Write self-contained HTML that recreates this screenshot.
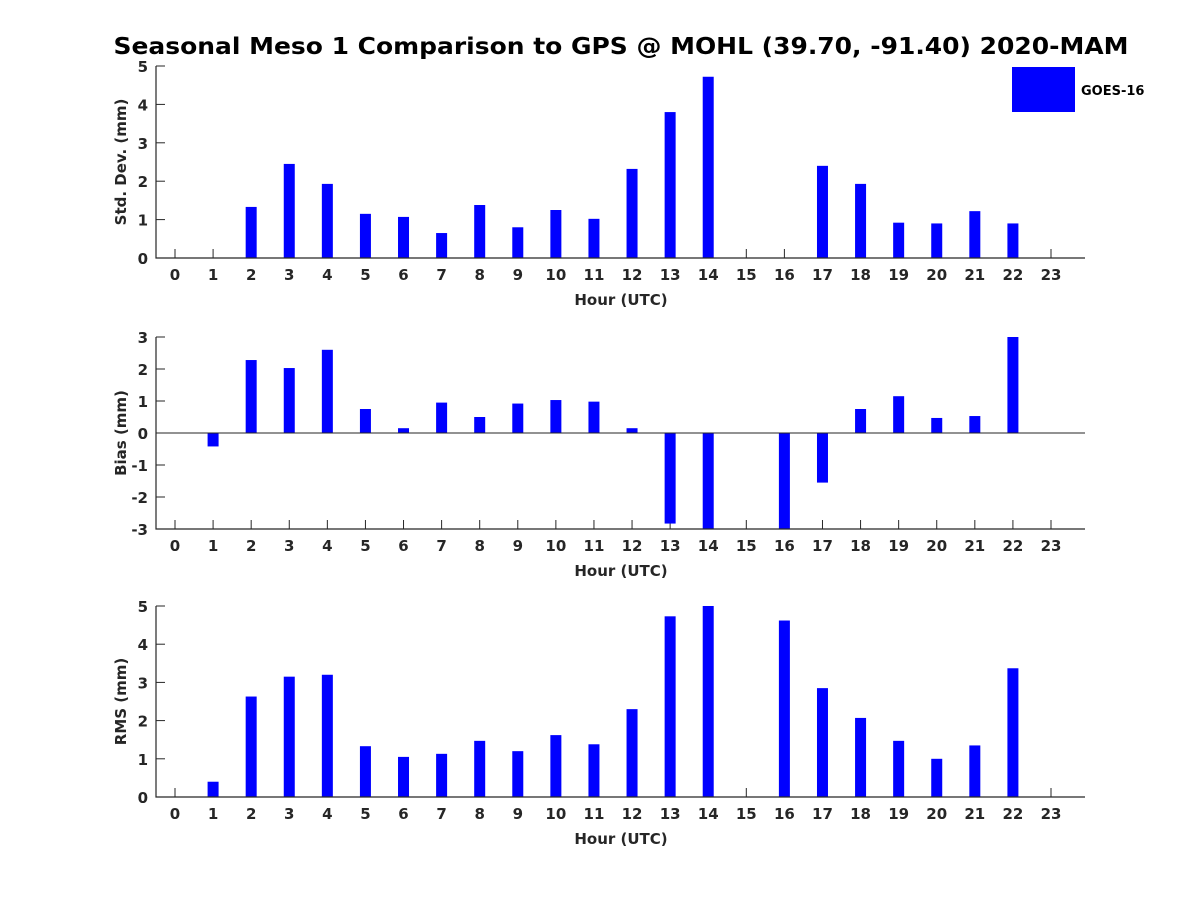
<!DOCTYPE html>
<html><head><meta charset="utf-8"><style>
body{margin:0;background:#fff}
svg text{font-family:"DejaVu Sans","Liberation Sans",sans-serif;font-weight:bold}
</style></head><body>
<svg id="c" width="1200" height="900" xmlns="http://www.w3.org/2000/svg">
<text x="621" y="54" text-anchor="middle" font-size="23" fill="#000" textLength="1015" lengthAdjust="spacingAndGlyphs">Seasonal Meso 1 Comparison to GPS @ MOHL (39.70, -91.40) 2020-MAM</text>
<rect x="1012" y="67" width="63" height="45" fill="#0000ff"/>
<text x="1081" y="95" font-size="13" fill="#000">GOES-16</text>
</svg>
<script>
const hours = [0,1,2,3,4,5,6,7,8,9,10,11,12,13,14,15,16,17,18,19,20,21,22,23];
const stdValues = [0,0,1.33,2.45,1.93,1.15,1.07,0.65,1.38,0.8,1.25,1.02,2.32,3.8,4.72,0,0,2.4,1.93,0.92,0.9,1.22,0.9,0];
const biasValues = [0,-0.42,2.28,2.03,2.6,0.75,0.15,0.95,0.5,0.92,1.03,0.98,0.15,-2.83,-3.2,0,-3.2,-1.55,0.75,1.15,0.47,0.53,3.0,0];
const rmsValues = [0,0.4,2.63,3.15,3.2,1.33,1.05,1.13,1.47,1.2,1.62,1.38,2.3,4.73,5.0,0,4.62,2.85,2.07,1.47,1.0,1.35,3.37,0];
const stdTicks = [0,1,2,3,4,5];
const biasTicks = [-3,-2,-1,0,1,2,3];
const rmsTicks = [0,1,2,3,4,5];
const svg = document.getElementById('c');
const NS = 'http://www.w3.org/2000/svg';
function mk(tag, attrs){const e=document.createElementNS(NS,tag);for(const k in attrs)e.setAttribute(k,attrs[k]);svg.appendChild(e);return e;}
const xL=156, xR=1085;
function xs(h){return 175 + h*(1051-175)/23;}
function panel(key, vals, ticks, ymin, ymax, top, bot, ylabel){
  const ys = v => bot - (Math.max(ymin,Math.min(ymax,v)) - ymin)/(ymax-ymin)*(bot-top);
  const base = ys(Math.max(ymin,0));
  hours.forEach(h=>{
    mk('line',{x1:xs(h),x2:xs(h),y1:bot,y2:bot-9,stroke:'#262626','stroke-width':1});
    const t=mk('text',{x:xs(h),y:bot+22,'text-anchor':'middle','font-size':15,fill:'#262626'});
    t.textContent=h;
    
    
  });
  vals.forEach((v,i)=>{
    if(v===0) return;
    const y1=ys(v), y0=base;
    const r=mk('rect',{x:xs(hours[i])-5.5,y:Math.min(y0,y1),width:11,height:Math.abs(y1-y0),fill:'#0000ff'});
    
    
  });
  const ax=mk('path',{d:`M${xL} ${top}V${bot}H${xR}`,stroke:'#262626','stroke-width':1.2,fill:'none'});
  
  
  if(ymin<0){
    const z=mk('line',{x1:xL,x2:xR,y1:ys(0),y2:ys(0),stroke:'#262626','stroke-width':1});
    
    
  }
  ticks.forEach(v=>{
    mk('line',{x1:xL,x2:xL+9,y1:ys(v),y2:ys(v),stroke:'#262626','stroke-width':1});
    const t=mk('text',{x:xL-8,y:ys(v)+6,'text-anchor':'end','font-size':15,fill:'#262626'});
    t.textContent=v;
    
    
  });
  const xl=mk('text',{x:621,y:bot+47,'text-anchor':'middle','font-size':15,fill:'#262626'});
  xl.textContent='Hour (UTC)';
  
  
  const cy=(top+bot)/2;
  const yl=mk('text',{x:0,y:0,'text-anchor':'middle','font-size':15,fill:'#262626',transform:`translate(126 ${cy}) rotate(-90)`});
  yl.textContent=ylabel;
  
  
}
panel('std', stdValues, stdTicks, 0, 5, 66, 258, 'Std. Dev. (mm)');
panel('bias', biasValues, biasTicks, -3, 3, 337, 529, 'Bias (mm)');
panel('rms', rmsValues, rmsTicks, 0, 5, 606, 797, 'RMS (mm)');
</script>
</body></html>
